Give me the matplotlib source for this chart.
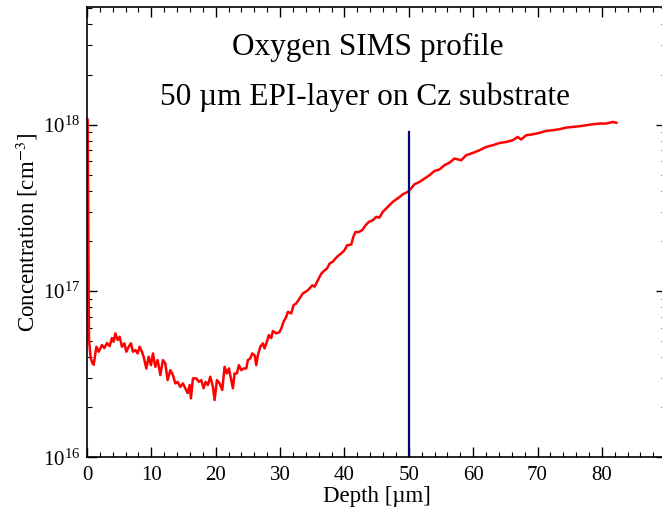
import numpy as np
import matplotlib
matplotlib.use("Agg")
import matplotlib.pyplot as plt
from matplotlib.ticker import MultipleLocator, FixedLocator, LogLocator

# SIMS oxygen profile
depth = [
    0.10, 0.22, 0.31, 0.57, 0.89, 1.04, 1.46, 1.82, 2.33, 2.70,
    3.11, 3.52, 3.88, 4.15, 4.41, 4.77, 5.08, 5.43, 5.81, 6.12,
    6.48, 6.83, 7.14, 7.52, 7.87, 8.18, 8.54, 8.80, 9.22, 9.58,
    9.94, 10.25, 10.62, 10.98, 11.40, 11.80, 12.17, 12.53, 12.95, 13.35,
    13.73, 14.08, 14.50, 14.91, 15.28, 15.64, 15.95, 16.15, 16.46, 16.99,
    17.39, 17.76, 18.12, 18.43, 18.79, 19.16, 19.57, 19.83, 20.19, 20.61,
    21.02, 21.38, 21.74, 22.05, 22.42, 22.67, 22.93, 23.29, 23.60, 23.98,
    24.33, 24.75, 25.00, 25.37, 25.68, 26.04, 26.30, 26.55, 26.93, 27.33,
    27.59, 27.95, 28.26, 28.63, 28.88, 29.41, 29.92, 30.19, 30.54, 30.96,
    31.21, 31.74, 32.10, 32.52, 33.03, 33.54, 33.96, 34.32, 34.58, 35.00,
    35.36, 35.87, 36.40, 36.91, 37.27, 37.69, 38.20, 38.62, 39.13, 39.50,
    40.02, 40.42, 41.06, 41.41, 41.72, 42.24, 42.76, 43.28, 43.79, 44.41,
    44.94, 45.45, 45.96, 46.49, 47.00, 47.52, 48.04, 48.56, 49.07, 49.84,
    50.37, 50.89, 51.66, 52.44, 53.21, 53.99, 54.77, 55.54, 56.32, 57.10,
    58.14, 58.91, 59.94, 60.98, 62.02, 63.04, 64.08, 65.12, 66.15, 66.93,
    67.45, 68.23, 69.25, 70.30, 71.34, 72.36, 73.40, 74.44, 75.47, 76.51,
    77.55, 78.57, 79.61, 80.65, 81.68, 82.25,
]
conc = [
    1.07e18, 1.76e17, 5.1e16, 3.95e16, 3.65e16, 3.6e16, 4.62e16, 4.31e16, 4.73e16, 4.53e16,
    4.86e16, 4.66e16, 5.21e16, 4.95e16, 5.56e16, 5.07e16, 5.30e16, 4.62e16, 4.84e16, 4.31e16,
    4.62e16, 4.84e16, 4.31e16, 4.41e16, 4.21e16, 4.62e16, 4.31e16, 4.02e16, 3.42e16, 4.02e16,
    3.58e16, 4.21e16, 3.50e16, 3.84e16, 3.12e16, 3.84e16, 3.67e16, 2.91e16, 3.34e16, 3.12e16,
    2.78e16, 2.84e16, 2.65e16, 2.78e16, 2.60e16, 2.43e16, 2.72e16, 2.26e16, 2.98e16, 2.98e16,
    2.84e16, 2.91e16, 2.60e16, 2.84e16, 2.72e16, 3.05e16, 2.65e16, 2.21e16, 2.91e16, 2.78e16,
    2.54e16, 3.50e16, 3.19e16, 3.42e16, 2.91e16, 2.60e16, 3.19e16, 3.19e16, 3.58e16, 3.34e16,
    3.42e16, 3.42e16, 3.84e16, 3.93e16, 4.21e16, 4.11e16, 3.58e16, 4.11e16, 4.62e16, 4.84e16,
    4.51e16, 4.95e16, 5.43e16, 5.21e16, 5.74e16, 5.56e16, 5.66e16, 5.95e16, 6.52e16, 6.99e16,
    7.49e16, 7.33e16, 8.22e16, 8.41e16, 9.02e16, 9.66e16, 9.88e16, 1.01e17, 1.035e17, 1.08e17,
    1.06e17, 1.16e17, 1.27e17, 1.33e17, 1.36e17, 1.46e17, 1.50e17, 1.57e17, 1.64e17, 1.68e17,
    1.76e17, 1.88e17, 1.90e17, 2.13e17, 2.26e17, 2.26e17, 2.32e17, 2.48e17, 2.60e17, 2.66e17,
    2.79e17, 2.76e17, 2.99e17, 3.13e17, 3.28e17, 3.43e17, 3.55e17, 3.67e17, 3.81e17, 3.94e17,
    4.13e17, 4.38e17, 4.52e17, 4.74e17, 4.96e17, 5.26e17, 5.37e17, 5.70e17, 5.90e17, 6.25e17,
    6.10e17, 6.54e17, 6.75e17, 7.01e17, 7.34e17, 7.51e17, 7.75e17, 7.86e17, 8.05e17, 8.43e17,
    8.13e17, 8.62e17, 8.74e17, 8.91e17, 9.16e17, 9.25e17, 9.38e17, 9.59e17, 9.68e17, 9.77e17,
    9.90e17, 1.004e18, 1.014e18, 1.014e18, 1.037e18, 1.025e18,
]

# EPI-layer thickness marker
epi_depth = 50
epi_marker_top = 9.0e17
x_major = [0, 10, 20, 30, 40, 50, 60, 70, 80]

plt.rcParams['font.family'] = ['Liberation Serif', 'DejaVu Serif']
plt.rcParams['mathtext.fontset'] = 'stix'

fig = plt.figure(figsize=(6.62, 5.13), dpi=100)
ax = fig.add_axes([0.1314, 0.1086, 0.875, 0.878])

ax.semilogy(depth, conc, color='red', linewidth=1.8)
ax.plot([epi_depth, epi_depth], [1e16, epi_marker_top], color='navy', linewidth=1.6)

ax.set_xlim(0, 90)
ax.set_ylim(1e16, 5.1e18)
ax.xaxis.set_major_locator(FixedLocator(x_major))
ax.xaxis.set_minor_locator(MultipleLocator(2))
ax.yaxis.set_major_locator(LogLocator(base=10, numticks=10))
ax.yaxis.set_minor_locator(LogLocator(base=10, subs=np.arange(2, 10), numticks=20))

ax.tick_params(which='both', direction='in', top=True, right=True, labelsize=15)
ax.tick_params(which='major', length=7, width=1)
ax.tick_params(which='minor', length=3.5, width=0.8)
ax.tick_params(axis='x', pad=6)
ax.tick_params(axis='y', pad=5)
for s in ax.spines.values():
    s.set_linewidth(1.2)

ax.set_xlabel('Depth [µm]', fontsize=16.5, labelpad=1)
ax.set_ylabel('Concentration [cm$^{-3}$]', fontsize=16.5, labelpad=2)

ax.text(0.485, 0.91, 'Oxygen SIMS profile', transform=ax.transAxes,
        ha='center', va='center', fontsize=22.5)
ax.text(0.48, 0.80, '50 µm EPI-layer on Cz substrate', transform=ax.transAxes,
        ha='center', va='center', fontsize=22.5)

fig.savefig('out.png', dpi=100)
